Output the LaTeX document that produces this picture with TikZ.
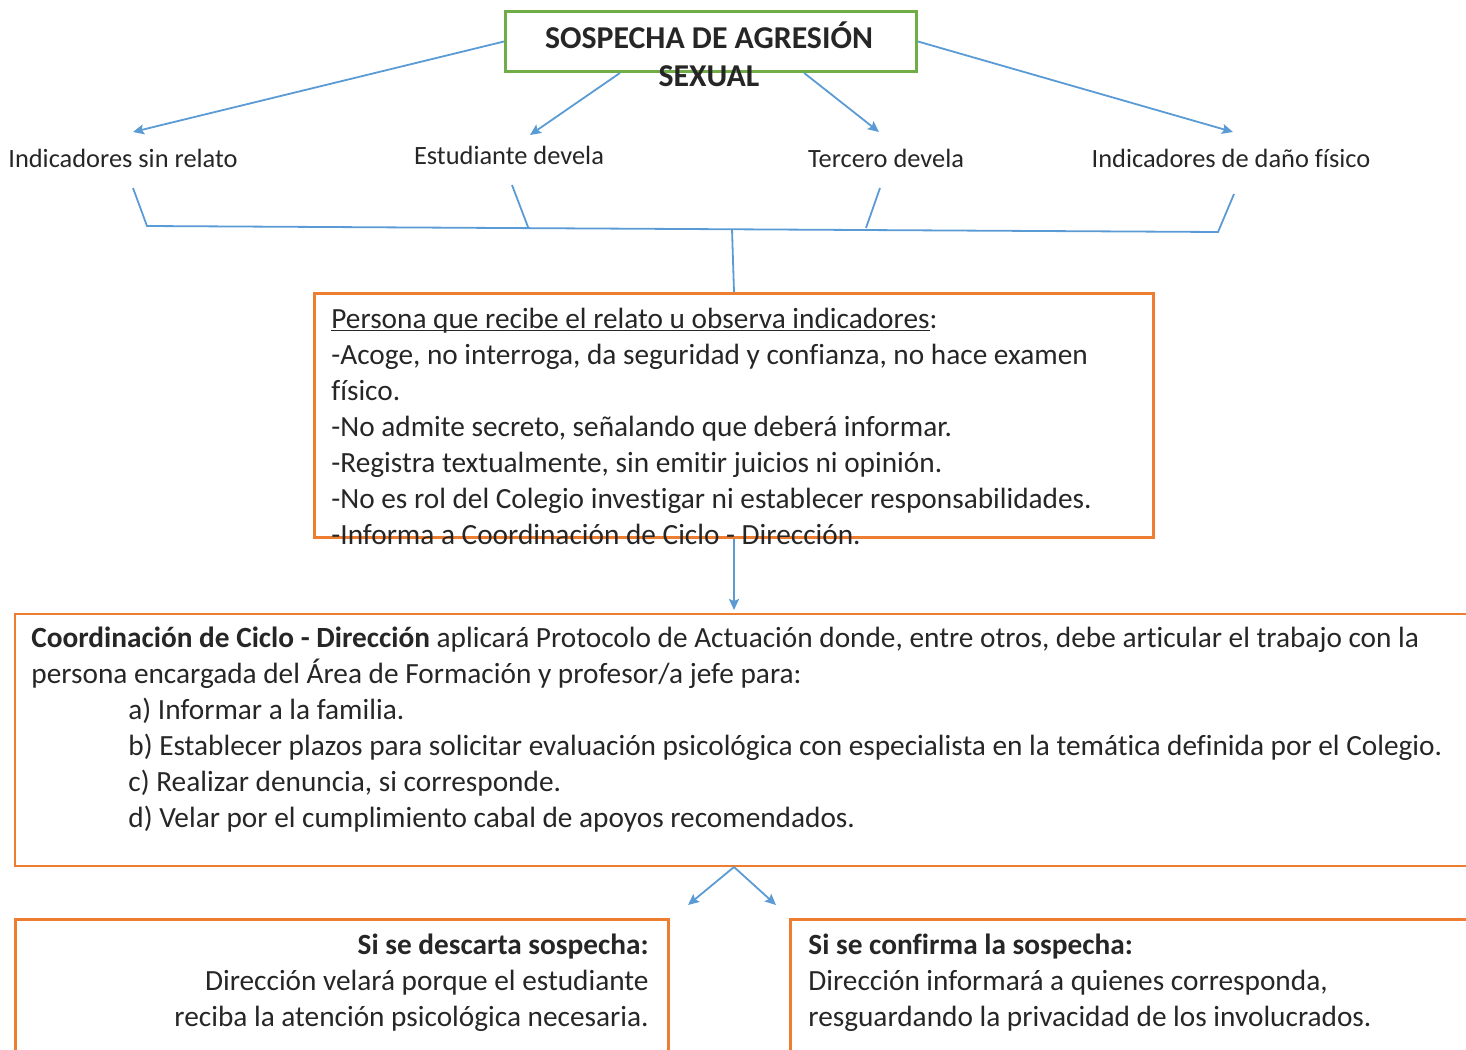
\documentclass[tikz,border=0pt]{standalone}
\usepackage{fontspec}
\setmainfont[Ligatures={TeX,NoCommon},RawFeature={-liga;-clig;-calt}]{Carlito}
\usetikzlibrary{arrows.meta}
\usetikzlibrary{calc}

\definecolor{lineablue}{HTML}{5B9BD5}
\definecolor{cajanaranja}{HTML}{ED7D31}
\definecolor{cajaverde}{HTML}{70AD47}
\definecolor{textogris}{HTML}{262626}

\newcommand{\subrayar}[1]{\setbox0\hbox{#1}\rlap{\rule[-1.6pt]{\wd0}{0.6pt}}\box0}

\begin{document}
\begin{tikzpicture}[x=0.5pt,y=-0.5pt,
    etiqueta/.style={font=\fontsize{13.2}{18}\selectfont, text=textogris, inner sep=0pt},
    cuerpo/.style={font=\fontsize{14.65}{18}\selectfont, text=textogris, inner sep=0pt},
    flecha/.style={draw=lineablue, line width=0.9pt, -{Stealth[length=5.5pt,width=5pt,inset=1pt]}},
    linea/.style={draw=lineablue, line width=0.9pt},
    marco/.style={draw=cajanaranja, line width=1.5pt, inner sep=0pt, anchor=north west}]
    \useasboundingbox (0,0) rectangle (1466,1049);
    \clip (0,0) rectangle (1466,1049);

    % Title box (the text runs out of it)
    \node[draw=cajaverde, line width=1.5pt, minimum width=205.5pt, minimum height=30pt, inner sep=0pt, anchor=north west] (sospecha) at (504,10) {};
    % multi-line nodes: base = baseline of the last line
    \node[font=\bfseries\fontsize{15.9}{19}\selectfont, text=textogris, align=center, anchor=base, inner sep=0pt] (titulo) at (709,86) {SOSPECHA DE AGRESIÓN\\SEXUAL};

    % The four ways in
    \node[etiqueta, anchor=base] (sinrelato) at (123,167) {Indicadores sin relato};
    \node[etiqueta, anchor=base] (estudiante) at (509,164) {Estudiante devela};
    \node[etiqueta, anchor=base] (tercero) at (886,167) {Tercero devela};
    \node[etiqueta, anchor=base] (danofisico) at (1231,167) {Indicadores de daño físico};

    \coordinate (puntaA) at (133,132);
    \coordinate (puntaB) at (530,135);
    \coordinate (puntaC) at (879,132);
    \coordinate (puntaD) at (1233,132);
    \draw[flecha] (sospecha.west) -- (puntaA);
    \draw[flecha] ($(sospecha.south west)!0.28!(sospecha.south east)$) -- (puntaB);
    \draw[flecha] ($(sospecha.south west)!0.725!(sospecha.south east)$) -- (puntaC);
    \draw[flecha] (sospecha.east) -- (puntaD);

    % Bracket gathering them
    \coordinate (barraI) at (147,226);
    \coordinate (barraD) at (1218,232);
    \coordinate (barraM) at (732,229);
    \draw[linea] (133,188) -- (barraI) -- (barraD) -- (1234,194);
    \draw[linea] (512,185) -- (528,227);
    \draw[linea] (880,188) -- (866,228);

    % Person who receives the account
    \node[marco, minimum width=419.5pt, minimum height=122pt] (receptor) at (313,292) {};
    \draw[linea] (barraM) -- (receptor.north);
    \node[cuerpo, anchor=base west, align=left] (receptortexto) at (331,544) {\subrayar{Persona que recibe el relato u observa indicadores}:\\
        -Acoge, no interroga, da seguridad y confianza, no hace examen\\
        físico.\\
        -No admite secreto, señalando que deberá informar.\\
        -Registra textualmente, sin emitir juicios ni opinión.\\
        -No es rol del Colegio investigar ni establecer responsabilidades.\\
        -Informa a Coordinación de Ciclo - Dirección.};

    % Coordination box
    \node[marco, line width=1pt, minimum width=743pt, minimum height=126pt] (coordinacion) at (14,613) {};
    \draw[flecha, shorten >=1.5pt] (receptor.south) -- (receptor.south |- coordinacion.north);
    \node[cuerpo, anchor=base west, align=left] (coordtexto) at (31,827) {\textbf{Coordinación de Ciclo - Dirección} aplicará Protocolo de Actuación donde, entre otros, debe articular el trabajo con la\\
        persona encargada del Área de Formación y profesor/a jefe para:\\
        \hspace*{48.5pt}a) Informar a la familia.\\
        \hspace*{48.5pt}b) Establecer plazos para solicitar evaluación psicológica con especialista en la temática definida por el Colegio.\\
        \hspace*{48.5pt}c) Realizar denuncia, si corresponde.\\
        \hspace*{48.5pt}d) Velar por el cumplimiento cabal de apoyos recomendados.};

    % Two outcomes
    \coordinate (rama) at (receptor.south |- coordinacion.south);
    \coordinate (puntaE) at (688,905);
    \coordinate (puntaF) at (776,905);
    \draw[flecha] (rama) -- (puntaE);
    \draw[flecha] (rama) -- (puntaF);

    \node[marco, line width=1.6pt, minimum width=326.5pt, minimum height=100pt] (descarta) at (14,918) {};
    \node[cuerpo, anchor=base east, align=right] (descartatexto) at (649,1026) {\textbf{Si se descarta sospecha:}\\
        Dirección velará porque el estudiante\\
        reciba la atención psicológica necesaria.};

    \node[marco, line width=1.6pt, minimum width=355.5pt, minimum height=100pt] (confirma) at (789,918) {};
    \node[cuerpo, anchor=base west, align=left] (confirmatexto) at (808,1026) {\textbf{Si se confirma la sospecha:}\\
        Dirección informará a quienes corresponda,\\
        resguardando la privacidad de los involucrados.};
\end{tikzpicture}
\end{document}
